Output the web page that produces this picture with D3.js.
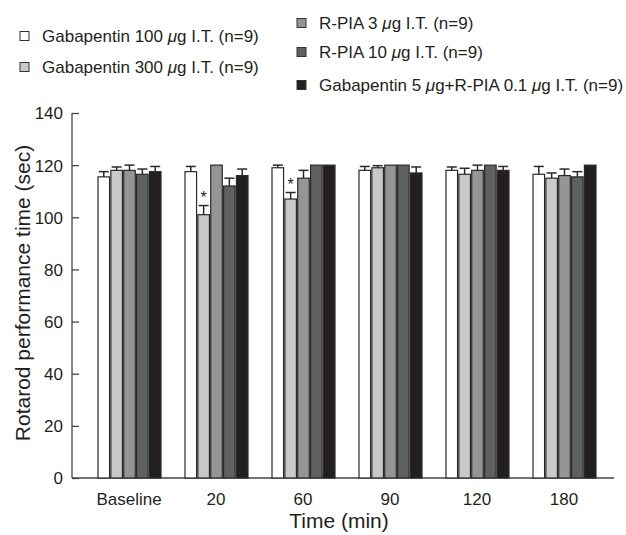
<!DOCTYPE html>
<html>
<head>
<meta charset="utf-8">
<script src="https://cdn.jsdelivr.net/npm/d3@7"></script>
<style>
  body { margin: 0; background: #fff; }
  svg text { font-family: "Liberation Sans", Arial, sans-serif; fill: #231f20; }
</style>
</head>
<body>
<div id="chart"></div>
<script>
// data
var times = ["Baseline", "20", "60", "90", "120", "180"];
var groups = ["g100", "g300", "r3", "r10", "combo"];
var labels = [
  ["Gabapentin 100 ", "μ", "g I.T. (n=9)"],
  ["Gabapentin 300 ", "μ", "g I.T. (n=9)"],
  ["R-PIA 3 ", "μ", "g I.T. (n=9)"],
  ["R-PIA 10 ", "μ", "g I.T. (n=9)"],
  ["Gabapentin 5 ", "μ", "g+R-PIA 0.1 ", "μ", "g I.T. (n=9)"]
];
var g100 = [115.5, 117.5, 119, 118, 118, 116.5];
var g100Err = [2, 2, 1, 1.5, 1.3, 3];
var g300 = [118, 101, 107, 119, 116.5, 115];
var g300Err = [1.3, 3.5, 2.5, 0.8, 2.3, 2];
var r3 = [118, 120, 115, 120, 118, 116];
var r3Err = [2, 0, 3, 0, 2, 2.5];
var r10 = [116.5, 112, 120, 120, 120, 115.5];
var r10Err = [2, 3, 0, 0, 0, 2];
var combo = [117.5, 116, 120, 117, 118, 120];
var comboErr = [2, 2.5, 0, 2.3, 1.5, 0];
var yTicks = [0, 20, 40, 60, 80, 100, 120, 140];
var stars = [{t: "20", g: "g300"}, {t: "60", g: "g300"}];

var colors = ["#ffffff", "#c8c9cb", "#949597", "#5f6062", "#231f20"];
var vals = [g100, g300, r3, r10, combo];
var errs = [g100Err, g300Err, r3Err, r10Err, comboErr];

var rows = [];
times.forEach(function(t, i) {
  groups.forEach(function(g, j) {
    rows.push({t: t, g: g, v: vals[j][i], e: errs[j][i], c: colors[j]});
  });
});

var W = 626, H = 535;
var svg = d3.select("#chart").append("svg")
    .attr("width", W)
    .attr("height", H);

var y = d3.scaleLinear().domain([0, 140]).range([478, 113]);
var x = d3.scaleBand().domain(times).range([86, 608]);
var xi = d3.scaleBand().domain(groups).range([12, 75]).paddingInner(0.1);

// axes
var yAxis = svg.append("g")
    .attr("transform", "translate(72,0)")
    .call(d3.axisRight(y).tickValues(yTicks).tickSize(7).tickFormat(""));
yAxis.select(".domain").attr("d", "M0," + y(0) + "V" + y(140));
yAxis.selectAll("line, path").attr("stroke", "#444").attr("stroke-width", 1.3);

yAxis.selectAll(".tick").append("text")
    .attr("x", -9)
    .attr("dy", "0.35em")
    .attr("text-anchor", "end")
    .style("font-size", "17px")
    .text(function(d) { return d; });

svg.append("line")
    .attr("x1", 72).attr("x2", 614)
    .attr("y1", y(0)).attr("y2", y(0))
    .attr("stroke", "#444").attr("stroke-width", 1.3);

svg.selectAll(".xlab").data(times).enter().append("text")
    .attr("class", "xlab")
    .attr("x", function(d) { return x(d) + 43; })
    .attr("y", 505)
    .attr("text-anchor", "middle")
    .style("font-size", "17px")
    .text(function(d) { return d; });

svg.append("text")
    .attr("x", 339).attr("y", 528)
    .attr("text-anchor", "middle")
    .style("font-size", "21px")
    .text("Time (min)");

svg.append("text")
    .attr("transform", "translate(30,293) rotate(-90)")
    .attr("text-anchor", "middle")
    .style("font-size", "21px")
    .text("Rotarod performance time (sec)");

// bars
var bars = svg.append("g");
bars.selectAll("rect").data(rows).enter().append("rect")
    .attr("x", function(d) { return x(d.t) + xi(d.g); })
    .attr("y", function(d) { return y(d.v); })
    .attr("width", xi.bandwidth())
    .attr("height", function(d) { return y(0) - y(d.v); })
    .attr("fill", function(d) { return d.c; })
    .attr("stroke", "#2a2a2a")
    .attr("stroke-width", 1.2);

// error bars, upper only
var eb = svg.append("g").selectAll("g").data(rows.filter(function(d) { return d.e > 0; }))
    .enter().append("g")
    .attr("transform", function(d) { return "translate(" + (x(d.t) + xi(d.g) + xi.bandwidth() / 2) + ",0)"; });
eb.append("line")
    .attr("y1", function(d) { return y(d.v); })
    .attr("y2", function(d) { return y(d.v + d.e); })
    .attr("stroke", "#2a2a2a").attr("stroke-width", 1.5);
eb.append("line")
    .attr("x1", -5).attr("x2", 5)
    .attr("y1", function(d) { return y(d.v + d.e); })
    .attr("y2", function(d) { return y(d.v + d.e); })
    .attr("stroke", "#2a2a2a").attr("stroke-width", 1.5);

// significance stars
svg.selectAll(".star").data(stars).enter().append("text")
    .attr("class", "star")
    .attr("x", function(s) { return x(s.t) + xi(s.g) + xi.bandwidth() / 2; })
    .attr("y", function(s) {
      var r = rows.filter(function(d) { return d.t === s.t && d.g === s.g; })[0];
      return y(r.v + r.e) - 3;
    })
    .attr("text-anchor", "middle")
    .style("font-size", "16px")
    .text("*");

// legend
var legPos = [[20, 36], [20, 67], [297, 23], [297, 52], [297, 85]];
var leg = svg.append("g").selectAll("g").data(labels).enter().append("g")
    .attr("transform", function(d, i) { return "translate(" + legPos[i][0] + "," + legPos[i][1] + ")"; });
leg.append("rect")
    .attr("x", 0).attr("y", -4.5)
    .attr("width", 9).attr("height", 9)
    .attr("fill", function(d, i) { return colors[i]; })
    .attr("stroke", "#333").attr("stroke-width", 1);
leg.append("text")
    .attr("x", 22).attr("y", 6)
    .style("font-size", "17px")
    .each(function(parts) {
      var t = d3.select(this);
      parts.forEach(function(p) {
        t.append("tspan")
          .style("font-style", p === "μ" ? "italic" : null)
          .text(p);
      });
    });
</script>
</body>
</html>
